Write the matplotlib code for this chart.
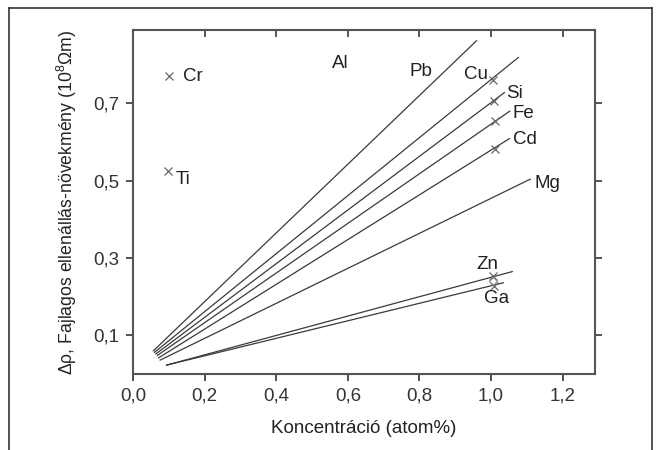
import matplotlib.pyplot as plt
from matplotlib.lines import Line2D

plt.rcParams['font.family'] = ['Liberation Sans', 'DejaVu Sans']
plt.rcParams['mathtext.fontset'] = 'custom'
plt.rcParams['mathtext.rm'] = 'Liberation Sans'

# --- adatok: egyenesek kezdő- és végpontjai (koncentráció, Δρ) ---
line_names = ['Pb', 'Cu', 'Si', 'Fe', 'Cd', 'Mg', 'Zn', 'Ga']
x_start = [0.057, 0.060, 0.064, 0.068, 0.072, 0.076, 0.094, 0.094]
y_start = [0.060, 0.056, 0.052, 0.048, 0.042, 0.036, 0.023, 0.023]
x_end = [0.959, 1.076, 1.037, 1.052, 1.051, 1.109, 1.059, 1.034]
y_end = [0.862, 0.819, 0.728, 0.680, 0.609, 0.504, 0.265, 0.236]

# mért pontok (x jelölők)
pt_names = ['Cr', 'Ti', 'Cu', 'Si', 'Fe', 'Cd', 'Zn', 'Ga']
pt_x = [0.101, 0.099, 1.006, 1.008, 1.010, 1.010, 1.006, 1.009]
pt_y = [0.770, 0.525, 0.761, 0.707, 0.654, 0.583, 0.253, 0.227]

# feliratok
lbl_text = ['Al', 'Pb', 'Cu', 'Si', 'Fe', 'Cd', 'Mg', 'Zn', 'Ga', 'Cr', 'Ti']
lbl_x = [0.555, 0.771, 0.925, 1.043, 1.060, 1.060, 1.122, 0.959, 0.979, 0.140, 0.118]
lbl_y = [0.803, 0.782, 0.775, 0.726, 0.674, 0.607, 0.492, 0.283, 0.196, 0.770, 0.504]

x_ticks = [0.0, 0.2, 0.4, 0.6, 0.8, 1.0, 1.2]
y_ticks = [0.1, 0.3, 0.5, 0.7]

fig = plt.figure(figsize=(6.57, 4.5), dpi=100)
ax = fig.add_axes([0.2024, 0.1689, 0.7032, 0.7644])

lc = '#3a3a3a'
for i in range(len(line_names)):
    ax.plot([x_start[i], x_end[i]], [y_start[i], y_end[i]], color=lc, lw=0.9)

ax.plot(pt_x, pt_y, 'x', color='#666666', ms=6, mew=0.9)
ax.plot([1.005], [0.240], 'D', mfc='none', mec='#888888', ms=4, mew=0.8)

for t, x, y in zip(lbl_text, lbl_x, lbl_y):
    ax.text(x, y, t, fontsize=13.5, color='#222222', va='center', ha='left')

ax.set_xlim(0, 1.29)
ax.set_ylim(0, 0.89)
ax.set_xticks(x_ticks)
ax.set_xticklabels([f'{v:.1f}'.replace('.', ',') for v in x_ticks])
ax.set_yticks(y_ticks)
ax.set_yticklabels([f'{v:.1f}'.replace('.', ',') for v in y_ticks])
ax.tick_params(axis='both', labelsize=13.5, colors='#333333', length=5, width=1.2, pad=5)
ax.tick_params(axis='both', direction='out')

# tükrözött tengelyvonások befelé (Origin stílus)
for v in x_ticks[1:]:
    ax.plot([v, v], [0.89, 0.89], marker=3, ms=5, mew=1.2, color='#555555', clip_on=False)
for v in y_ticks:
    ax.plot([1.29, 1.29], [v, v], marker=1, ms=5, mew=1.2, color='#555555', clip_on=False)

for s in ax.spines.values():
    s.set_color('#555555')
    s.set_linewidth(1.5)

ax.set_xlabel('Koncentráció (atom%)', fontsize=13.5, color='#222222', labelpad=11)
ax.set_ylabel('Δρ, Fajlagos ellenállás-növekmény (10$^8$Ωm)', fontsize=12.7,
              color='#222222', labelpad=10)

# külső keret
fx0, fx1, fy1 = 9 / 657, 652 / 657, 1 - 8 / 450
for xs, ys in [([fx0, fx0], [0, fy1]), ([fx0, fx1], [fy1, fy1]), ([fx1, fx1], [fy1, 0])]:
    fig.add_artist(Line2D(xs, ys, transform=fig.transFigure, color='#333333', lw=1.2))

fig.savefig('out.png', dpi=100)
